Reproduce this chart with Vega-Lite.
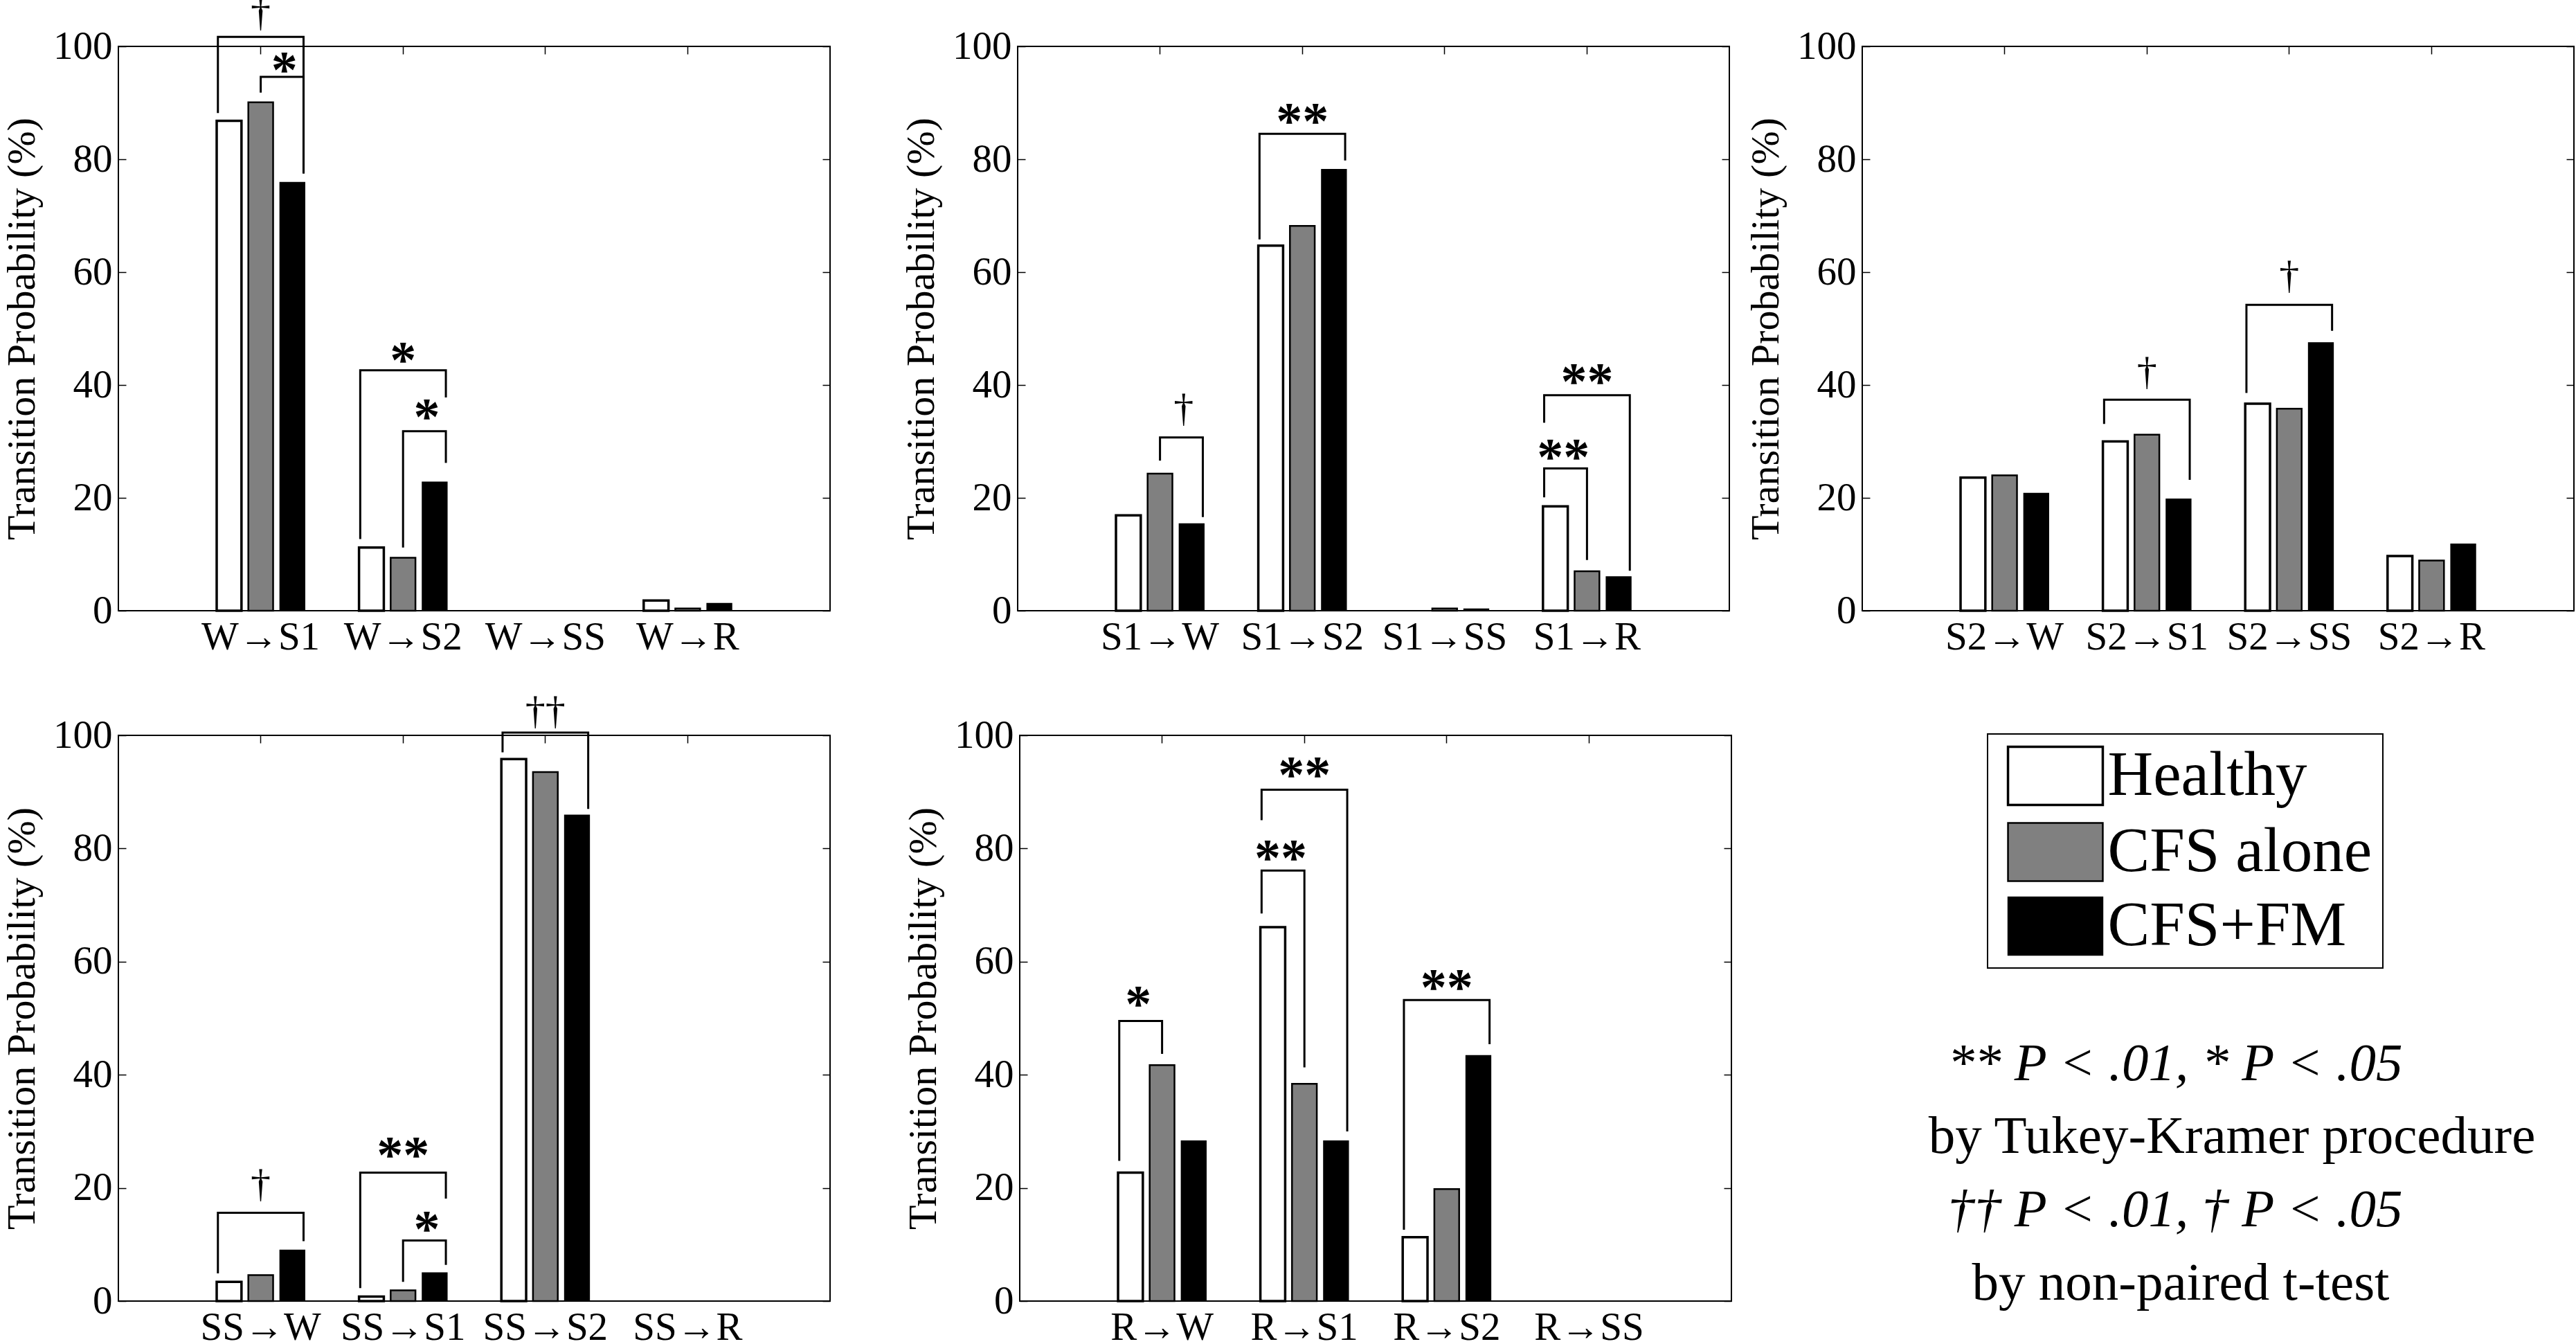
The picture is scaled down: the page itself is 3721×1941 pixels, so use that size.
{
"$schema":"https://vega.github.io/schema/vega-lite/v6.json",
"background":"white",
"padding":{"left":2,"top":-11,"right":0,"bottom":0},
"autosize":{"type":"pad"},
"datasets":{
"bars":[
{"p":1,"t":"W→S1","g":"Healthy","v":86.8},{"p":1,"t":"W→S1","g":"CFS alone","v":90.1},{"p":1,"t":"W→S1","g":"CFS+FM","v":75.9},
{"p":1,"t":"W→S2","g":"Healthy","v":11.2},{"p":1,"t":"W→S2","g":"CFS alone","v":9.4},{"p":1,"t":"W→S2","g":"CFS+FM","v":22.8},
{"p":1,"t":"W→SS","g":"Healthy","v":0},{"p":1,"t":"W→SS","g":"CFS alone","v":0},{"p":1,"t":"W→SS","g":"CFS+FM","v":0},
{"p":1,"t":"W→R","g":"Healthy","v":1.8},{"p":1,"t":"W→R","g":"CFS alone","v":0.4},{"p":1,"t":"W→R","g":"CFS+FM","v":1.3},
{"p":2,"t":"S1→W","g":"Healthy","v":16.9},{"p":2,"t":"S1→W","g":"CFS alone","v":24.3},{"p":2,"t":"S1→W","g":"CFS+FM","v":15.4},
{"p":2,"t":"S1→S2","g":"Healthy","v":64.7},{"p":2,"t":"S1→S2","g":"CFS alone","v":68.2},{"p":2,"t":"S1→S2","g":"CFS+FM","v":78.2},
{"p":2,"t":"S1→SS","g":"Healthy","v":0},{"p":2,"t":"S1→SS","g":"CFS alone","v":0.4},{"p":2,"t":"S1→SS","g":"CFS+FM","v":0.3},
{"p":2,"t":"S1→R","g":"Healthy","v":18.5},{"p":2,"t":"S1→R","g":"CFS alone","v":7.0},{"p":2,"t":"S1→R","g":"CFS+FM","v":6.0},
{"p":3,"t":"S2→W","g":"Healthy","v":23.6},{"p":3,"t":"S2→W","g":"CFS alone","v":24.0},{"p":3,"t":"S2→W","g":"CFS+FM","v":20.8},
{"p":3,"t":"S2→S1","g":"Healthy","v":30.0},{"p":3,"t":"S2→S1","g":"CFS alone","v":31.2},{"p":3,"t":"S2→S1","g":"CFS+FM","v":19.8},
{"p":3,"t":"S2→SS","g":"Healthy","v":36.7},{"p":3,"t":"S2→SS","g":"CFS alone","v":35.8},{"p":3,"t":"S2→SS","g":"CFS+FM","v":47.5},
{"p":3,"t":"S2→R","g":"Healthy","v":9.7},{"p":3,"t":"S2→R","g":"CFS alone","v":8.9},{"p":3,"t":"S2→R","g":"CFS+FM","v":11.8},
{"p":4,"t":"SS→W","g":"Healthy","v":3.4},{"p":4,"t":"SS→W","g":"CFS alone","v":4.6},{"p":4,"t":"SS→W","g":"CFS+FM","v":9.0},
{"p":4,"t":"SS→S1","g":"Healthy","v":0.8},{"p":4,"t":"SS→S1","g":"CFS alone","v":1.9},{"p":4,"t":"SS→S1","g":"CFS+FM","v":5.0},
{"p":4,"t":"SS→S2","g":"Healthy","v":95.8},{"p":4,"t":"SS→S2","g":"CFS alone","v":93.5},{"p":4,"t":"SS→S2","g":"CFS+FM","v":85.9},
{"p":4,"t":"SS→R","g":"Healthy","v":0},{"p":4,"t":"SS→R","g":"CFS alone","v":0},{"p":4,"t":"SS→R","g":"CFS+FM","v":0},
{"p":5,"t":"R→W","g":"Healthy","v":22.7},{"p":5,"t":"R→W","g":"CFS alone","v":41.7},{"p":5,"t":"R→W","g":"CFS+FM","v":28.3},
{"p":5,"t":"R→S1","g":"Healthy","v":66.1},{"p":5,"t":"R→S1","g":"CFS alone","v":38.4},{"p":5,"t":"R→S1","g":"CFS+FM","v":28.3},
{"p":5,"t":"R→S2","g":"Healthy","v":11.3},{"p":5,"t":"R→S2","g":"CFS alone","v":19.8},{"p":5,"t":"R→S2","g":"CFS+FM","v":43.4},
{"p":5,"t":"R→SS","g":"Healthy","v":0},{"p":5,"t":"R→SS","g":"CFS alone","v":0},{"p":5,"t":"R→SS","g":"CFS+FM","v":0}
],
"brackets":[
{"p":1,"b":"b1","t":"W→S1","g":"Healthy","y":88.2,"k":1},{"p":1,"b":"b1","t":"W→S1","g":"Healthy","y":101.7,"k":2},{"p":1,"b":"b1","t":"W→S1","g":"CFS+FM","y":101.7,"k":3},{"p":1,"b":"b1","t":"W→S1","g":"CFS+FM","y":77.5,"k":4},
{"p":1,"b":"b2","t":"W→S1","g":"CFS alone","y":91.8,"k":1},{"p":1,"b":"b2","t":"W→S1","g":"CFS alone","y":94.6,"k":2},{"p":1,"b":"b2","t":"W→S1","g":"CFS+FM","y":94.6,"k":3},{"p":1,"b":"b2","t":"W→S1","g":"CFS+FM","y":77.5,"k":4},
{"p":1,"b":"b3","t":"W→S2","g":"Healthy","y":12.7,"k":1},{"p":1,"b":"b3","t":"W→S2","g":"Healthy","y":42.6,"k":2},{"p":1,"b":"b3","t":"W→S2","g":"CFS+FM","y":42.6,"k":3},{"p":1,"b":"b3","t":"W→S2","g":"CFS+FM","y":37.8,"k":4},
{"p":1,"b":"b4","t":"W→S2","g":"CFS alone","y":11.2,"k":1},{"p":1,"b":"b4","t":"W→S2","g":"CFS alone","y":31.8,"k":2},{"p":1,"b":"b4","t":"W→S2","g":"CFS+FM","y":31.8,"k":3},{"p":1,"b":"b4","t":"W→S2","g":"CFS+FM","y":26.2,"k":4},
{"p":2,"b":"b5","t":"S1→W","g":"CFS alone","y":26.6,"k":1},{"p":2,"b":"b5","t":"S1→W","g":"CFS alone","y":30.7,"k":2},{"p":2,"b":"b5","t":"S1→W","g":"CFS+FM","y":30.7,"k":3},{"p":2,"b":"b5","t":"S1→W","g":"CFS+FM","y":16.6,"k":4},
{"p":2,"b":"b6","t":"S1→S2","g":"Healthy","y":65.8,"k":1},{"p":2,"b":"b6","t":"S1→S2","g":"Healthy","y":84.5,"k":2},{"p":2,"b":"b6","t":"S1→S2","g":"CFS+FM","y":84.5,"k":3},{"p":2,"b":"b6","t":"S1→S2","g":"CFS+FM","y":79.8,"k":4},
{"p":2,"b":"b7","t":"S1→R","g":"Healthy","y":20.1,"k":1},{"p":2,"b":"b7","t":"S1→R","g":"Healthy","y":25.2,"k":2},{"p":2,"b":"b7","t":"S1→R","g":"CFS alone","y":25.2,"k":3},{"p":2,"b":"b7","t":"S1→R","g":"CFS alone","y":9.0,"k":4},
{"p":2,"b":"b8","t":"S1→R","g":"Healthy","y":33.3,"k":1},{"p":2,"b":"b8","t":"S1→R","g":"Healthy","y":38.2,"k":2},{"p":2,"b":"b8","t":"S1→R","g":"CFS+FM","y":38.2,"k":3},{"p":2,"b":"b8","t":"S1→R","g":"CFS+FM","y":7.1,"k":4},
{"p":3,"b":"b9","t":"S2→S1","g":"Healthy","y":33.1,"k":1},{"p":3,"b":"b9","t":"S2→S1","g":"Healthy","y":37.4,"k":2},{"p":3,"b":"b9","t":"S2→S1","g":"CFS+FM","y":37.4,"k":3},{"p":3,"b":"b9","t":"S2→S1","g":"CFS+FM","y":23.2,"k":4},
{"p":3,"b":"b10","t":"S2→SS","g":"Healthy","y":38.6,"k":1},{"p":3,"b":"b10","t":"S2→SS","g":"Healthy","y":54.2,"k":2},{"p":3,"b":"b10","t":"S2→SS","g":"CFS+FM","y":54.2,"k":3},{"p":3,"b":"b10","t":"S2→SS","g":"CFS+FM","y":49.6,"k":4},
{"p":4,"b":"b11","t":"SS→W","g":"Healthy","y":4.9,"k":1},{"p":4,"b":"b11","t":"SS→W","g":"Healthy","y":15.6,"k":2},{"p":4,"b":"b11","t":"SS→W","g":"CFS+FM","y":15.6,"k":3},{"p":4,"b":"b11","t":"SS→W","g":"CFS+FM","y":10.6,"k":4},
{"p":4,"b":"b12","t":"SS→S1","g":"Healthy","y":2.3,"k":1},{"p":4,"b":"b12","t":"SS→S1","g":"Healthy","y":22.7,"k":2},{"p":4,"b":"b12","t":"SS→S1","g":"CFS+FM","y":22.7,"k":3},{"p":4,"b":"b12","t":"SS→S1","g":"CFS+FM","y":18.1,"k":4},
{"p":4,"b":"b13","t":"SS→S1","g":"CFS alone","y":3.4,"k":1},{"p":4,"b":"b13","t":"SS→S1","g":"CFS alone","y":10.7,"k":2},{"p":4,"b":"b13","t":"SS→S1","g":"CFS+FM","y":10.7,"k":3},{"p":4,"b":"b13","t":"SS→S1","g":"CFS+FM","y":6.4,"k":4},
{"p":4,"b":"b14","t":"SS→S2","g":"Healthy","y":97.0,"k":1},{"p":4,"b":"b14","t":"SS→S2","g":"Healthy","y":100.5,"k":2},{"p":4,"b":"b14","t":"SS→S2","g":"CFS+FM","y":100.5,"k":3},{"p":4,"b":"b14","t":"SS→S2","g":"CFS+FM","y":87.0,"k":4},
{"p":5,"b":"b15","t":"R→W","g":"Healthy","y":24.8,"k":1},{"p":5,"b":"b15","t":"R→W","g":"Healthy","y":49.5,"k":2},{"p":5,"b":"b15","t":"R→W","g":"CFS alone","y":49.5,"k":3},{"p":5,"b":"b15","t":"R→W","g":"CFS alone","y":43.7,"k":4},
{"p":5,"b":"b16","t":"R→S1","g":"Healthy","y":68.5,"k":1},{"p":5,"b":"b16","t":"R→S1","g":"Healthy","y":76.1,"k":2},{"p":5,"b":"b16","t":"R→S1","g":"CFS alone","y":76.1,"k":3},{"p":5,"b":"b16","t":"R→S1","g":"CFS alone","y":41.3,"k":4},
{"p":5,"b":"b17","t":"R→S1","g":"Healthy","y":85.0,"k":1},{"p":5,"b":"b17","t":"R→S1","g":"Healthy","y":90.4,"k":2},{"p":5,"b":"b17","t":"R→S1","g":"CFS+FM","y":90.4,"k":3},{"p":5,"b":"b17","t":"R→S1","g":"CFS+FM","y":30.0,"k":4},
{"p":5,"b":"b18","t":"R→S2","g":"Healthy","y":12.6,"k":1},{"p":5,"b":"b18","t":"R→S2","g":"Healthy","y":53.2,"k":2},{"p":5,"b":"b18","t":"R→S2","g":"CFS+FM","y":53.2,"k":3},{"p":5,"b":"b18","t":"R→S2","g":"CFS+FM","y":45.4,"k":4}
],
"labels":[
{"p":1,"t":"W→S1","s":"H-F","txt":"†","y":105.2},{"p":1,"t":"W→S1","s":"C-F","txt":"*","y":97.0},{"p":1,"t":"W→S2","s":"H-F","txt":"*","y":45.7},{"p":1,"t":"W→S2","s":"C-F","txt":"*","y":35.6},
{"p":2,"t":"S1→W","s":"C-F","txt":"†","y":35.1},{"p":2,"t":"S1→S2","s":"H-F","txt":"**","y":88.0},{"p":2,"t":"S1→R","s":"H-C","txt":"**","y":28.5},{"p":2,"t":"S1→R","s":"H-F","txt":"**","y":41.9},
{"p":3,"t":"S2→S1","s":"H-F","txt":"†","y":41.6},{"p":3,"t":"S2→SS","s":"H-F","txt":"†","y":58.7},
{"p":4,"t":"SS→W","s":"H-F","txt":"†","y":19.9},{"p":4,"t":"SS→S1","s":"H-F","txt":"**","y":27.1},{"p":4,"t":"SS→S1","s":"C-F","txt":"*","y":13.9},{"p":4,"t":"SS→S2","s":"H-F","txt":"††","y":103.5},
{"p":5,"t":"R→W","s":"H-C","txt":"*","y":53.7},{"p":5,"t":"R→S1","s":"H-C","txt":"**","y":79.6},{"p":5,"t":"R→S1","s":"H-F","txt":"**","y":94.2},{"p":5,"t":"R→S2","s":"H-F","txt":"**","y":56.7}
],
"notes":[
{"line":1,"txt":"** P < .01, * P < .05"},
{"line":2,"txt":"by Tukey-Kramer procedure"},
{"line":3,"txt":"†† P < .01, † P < .05"},
{"line":4,"txt":"by non-paired t-test"}
]
},
"vconcat":[
{"hconcat":[
{"width":1028,"height":815,"layer":[
{"data":{"name":"bars"},"transform":[{"filter":"datum.p == 1"}],"mark":{"type":"bar","stroke":"black"},"encoding":{
"x":{"field":"t","type":"nominal","scale":{"domain":["W→S1","W→S2","W→SS","W→R"],"paddingInner":0.3333,"paddingOuter":0.6667},"axis":{"orient":"bottom","title":null,"labelAngle":0,"ticks":false,"labelPadding":10}},
"xOffset":{"field":"g","type":"nominal","scale":{"domain":["Healthy","CFS alone","CFS+FM"],"paddingInner":0.216,"paddingOuter":0.108}},
"y":{"field":"v","type":"quantitative","scale":{"domain":[0,100],"nice":false},"axis":{"orient":"left","title":"Transition Probability (%)","titleFont":"Liberation Serif","values":[0,20,40,60,80,100],"labelPadding":20,"titlePadding":15}},
"fill":{"field":"g","type":"nominal","scale":{"domain":["Healthy","CFS alone","CFS+FM"],"range":["#ffffff","#808080","#000000"]},"legend":{"title":null,"orient":"none","legendX":2700,"legendY":993}},
"strokeWidth":{"condition":{"test":"datum.v <= 0","value":0},"field":"g","type":"nominal","scale":{"domain":["Healthy","CFS alone","CFS+FM"],"range":[3.5,1.5,1]},"legend":null}}},
{"data":{"name":"brackets"},"transform":[{"filter":"datum.p == 1"}],"mark":{"type":"line","color":"black","strokeWidth":3},"encoding":{
"x":{"field":"t","type":"nominal","scale":{"domain":["W→S1","W→S2","W→SS","W→R"],"paddingInner":0.3333,"paddingOuter":0.6667},"axis":{"orient":"top","title":null,"labels":false}},
"xOffset":{"field":"g","type":"nominal","scale":{"domain":["Healthy","CFS alone","CFS+FM"],"paddingInner":0.216,"paddingOuter":0.108}},
"y":{"field":"y","type":"quantitative","scale":{"domain":[0,100],"nice":false},"axis":{"orient":"right","title":null,"labels":false,"values":[0,20,40,60,80,100]}},
"detail":{"field":"b"},"order":{"field":"k","type":"quantitative"}}},
{"data":{"name":"labels"},"transform":[{"filter":"datum.p == 1 && indexof(datum.txt, '*') >= 0"}],"mark":{"type":"text","font":"Liberation Serif","fontSize":76,"fontWeight":"bold","baseline":"middle","dy":12,"color":"black"},"encoding":{
"x":{"field":"t","type":"nominal","scale":{"domain":["W→S1","W→S2","W→SS","W→R"],"paddingInner":0.3333,"paddingOuter":0.6667},"axis":null},
"xOffset":{"field":"s","type":"nominal","scale":{"domain":["H-C","H-F","C-F"],"paddingInner":0,"paddingOuter":1.5}},
"y":{"field":"y","type":"quantitative","scale":{"domain":[0,100],"nice":false},"axis":null},"text":{"field":"txt"}}},
{"data":{"name":"labels"},"transform":[{"filter":"datum.p == 1 && indexof(datum.txt, '*') < 0"}],"mark":{"type":"text","font":"Liberation Serif","fontSize":58,"baseline":"middle","dy":-5,"color":"black"},"encoding":{
"x":{"field":"t","type":"nominal","scale":{"domain":["W→S1","W→S2","W→SS","W→R"],"paddingInner":0.3333,"paddingOuter":0.6667},"axis":null},
"xOffset":{"field":"s","type":"nominal","scale":{"domain":["H-C","H-F","C-F"],"paddingInner":0,"paddingOuter":1.5}},
"y":{"field":"y","type":"quantitative","scale":{"domain":[0,100],"nice":false},"axis":null},"text":{"field":"txt"}}}
],"resolve":{"axis":{"x":"independent","y":"independent"},"scale":{"xOffset":"independent"}}},
{"hconcat":[
{"width":1028,"height":815,"layer":[
{"data":{"name":"bars"},"transform":[{"filter":"datum.p == 2"}],"mark":{"type":"bar","stroke":"black"},"encoding":{
"x":{"field":"t","type":"nominal","scale":{"domain":["S1→W","S1→S2","S1→SS","S1→R"],"paddingInner":0.3333,"paddingOuter":0.6667},"axis":{"orient":"bottom","title":null,"labelAngle":0,"ticks":false,"labelPadding":10}},
"xOffset":{"field":"g","type":"nominal","scale":{"domain":["Healthy","CFS alone","CFS+FM"],"paddingInner":0.216,"paddingOuter":0.108}},
"y":{"field":"v","type":"quantitative","scale":{"domain":[0,100],"nice":false},"axis":{"orient":"left","title":"Transition Probability (%)","titleFont":"Liberation Serif","values":[0,20,40,60,80,100],"labelPadding":20,"titlePadding":15}},
"fill":{"field":"g","type":"nominal","scale":{"domain":["Healthy","CFS alone","CFS+FM"],"range":["#ffffff","#808080","#000000"]}},
"strokeWidth":{"condition":{"test":"datum.v <= 0","value":0},"field":"g","type":"nominal","scale":{"domain":["Healthy","CFS alone","CFS+FM"],"range":[3.5,1.5,1]},"legend":null}}},
{"data":{"name":"brackets"},"transform":[{"filter":"datum.p == 2"}],"mark":{"type":"line","color":"black","strokeWidth":3},"encoding":{
"x":{"field":"t","type":"nominal","scale":{"domain":["S1→W","S1→S2","S1→SS","S1→R"],"paddingInner":0.3333,"paddingOuter":0.6667},"axis":{"orient":"top","title":null,"labels":false}},
"xOffset":{"field":"g","type":"nominal","scale":{"domain":["Healthy","CFS alone","CFS+FM"],"paddingInner":0.216,"paddingOuter":0.108}},
"y":{"field":"y","type":"quantitative","scale":{"domain":[0,100],"nice":false},"axis":{"orient":"right","title":null,"labels":false,"values":[0,20,40,60,80,100]}},
"detail":{"field":"b"},"order":{"field":"k","type":"quantitative"}}},
{"data":{"name":"labels"},"transform":[{"filter":"datum.p == 2 && indexof(datum.txt, '*') >= 0"}],"mark":{"type":"text","font":"Liberation Serif","fontSize":76,"fontWeight":"bold","baseline":"middle","dy":12,"color":"black"},"encoding":{
"x":{"field":"t","type":"nominal","scale":{"domain":["S1→W","S1→S2","S1→SS","S1→R"],"paddingInner":0.3333,"paddingOuter":0.6667},"axis":null},
"xOffset":{"field":"s","type":"nominal","scale":{"domain":["H-C","H-F","C-F"],"paddingInner":0,"paddingOuter":1.5}},
"y":{"field":"y","type":"quantitative","scale":{"domain":[0,100],"nice":false},"axis":null},"text":{"field":"txt"}}},
{"data":{"name":"labels"},"transform":[{"filter":"datum.p == 2 && indexof(datum.txt, '*') < 0"}],"mark":{"type":"text","font":"Liberation Serif","fontSize":58,"baseline":"middle","dy":-5,"color":"black"},"encoding":{
"x":{"field":"t","type":"nominal","scale":{"domain":["S1→W","S1→S2","S1→SS","S1→R"],"paddingInner":0.3333,"paddingOuter":0.6667},"axis":null},
"xOffset":{"field":"s","type":"nominal","scale":{"domain":["H-C","H-F","C-F"],"paddingInner":0,"paddingOuter":1.5}},
"y":{"field":"y","type":"quantitative","scale":{"domain":[0,100],"nice":false},"axis":null},"text":{"field":"txt"}}}
],"resolve":{"axis":{"x":"independent","y":"independent"},"scale":{"xOffset":"independent"}}},
{"width":1028,"height":815,"layer":[
{"data":{"name":"bars"},"transform":[{"filter":"datum.p == 3"}],"mark":{"type":"bar","stroke":"black"},"encoding":{
"x":{"field":"t","type":"nominal","scale":{"domain":["S2→W","S2→S1","S2→SS","S2→R"],"paddingInner":0.3333,"paddingOuter":0.6667},"axis":{"orient":"bottom","title":null,"labelAngle":0,"ticks":false,"labelPadding":10}},
"xOffset":{"field":"g","type":"nominal","scale":{"domain":["Healthy","CFS alone","CFS+FM"],"paddingInner":0.216,"paddingOuter":0.108}},
"y":{"field":"v","type":"quantitative","scale":{"domain":[0,100],"nice":false},"axis":{"orient":"left","title":"Transition Probability (%)","titleFont":"Liberation Serif","values":[0,20,40,60,80,100],"labelPadding":20,"titlePadding":15}},
"fill":{"field":"g","type":"nominal","scale":{"domain":["Healthy","CFS alone","CFS+FM"],"range":["#ffffff","#808080","#000000"]}},
"strokeWidth":{"condition":{"test":"datum.v <= 0","value":0},"field":"g","type":"nominal","scale":{"domain":["Healthy","CFS alone","CFS+FM"],"range":[3.5,1.5,1]},"legend":null}}},
{"data":{"name":"brackets"},"transform":[{"filter":"datum.p == 3"}],"mark":{"type":"line","color":"black","strokeWidth":3},"encoding":{
"x":{"field":"t","type":"nominal","scale":{"domain":["S2→W","S2→S1","S2→SS","S2→R"],"paddingInner":0.3333,"paddingOuter":0.6667},"axis":{"orient":"top","title":null,"labels":false}},
"xOffset":{"field":"g","type":"nominal","scale":{"domain":["Healthy","CFS alone","CFS+FM"],"paddingInner":0.216,"paddingOuter":0.108}},
"y":{"field":"y","type":"quantitative","scale":{"domain":[0,100],"nice":false},"axis":{"orient":"right","title":null,"labels":false,"values":[0,20,40,60,80,100]}},
"detail":{"field":"b"},"order":{"field":"k","type":"quantitative"}}},
{"data":{"name":"labels"},"transform":[{"filter":"datum.p == 3 && indexof(datum.txt, '*') < 0"}],"mark":{"type":"text","font":"Liberation Serif","fontSize":58,"baseline":"middle","dy":-5,"color":"black"},"encoding":{
"x":{"field":"t","type":"nominal","scale":{"domain":["S2→W","S2→S1","S2→SS","S2→R"],"paddingInner":0.3333,"paddingOuter":0.6667},"axis":null},
"xOffset":{"field":"s","type":"nominal","scale":{"domain":["H-C","H-F","C-F"],"paddingInner":0,"paddingOuter":1.5}},
"y":{"field":"y","type":"quantitative","scale":{"domain":[0,100],"nice":false},"axis":null},"text":{"field":"txt"}}}
],"resolve":{"axis":{"x":"independent","y":"independent"},"scale":{"xOffset":"independent"}}}
],"spacing":21}
],"spacing":100},
{"hconcat":[
{"width":1028,"height":817,"layer":[
{"data":{"name":"bars"},"transform":[{"filter":"datum.p == 4"}],"mark":{"type":"bar","stroke":"black"},"encoding":{
"x":{"field":"t","type":"nominal","scale":{"domain":["SS→W","SS→S1","SS→S2","SS→R"],"paddingInner":0.3333,"paddingOuter":0.6667},"axis":{"orient":"bottom","title":null,"labelAngle":0,"ticks":false,"labelPadding":10}},
"xOffset":{"field":"g","type":"nominal","scale":{"domain":["Healthy","CFS alone","CFS+FM"],"paddingInner":0.216,"paddingOuter":0.108}},
"y":{"field":"v","type":"quantitative","scale":{"domain":[0,100],"nice":false},"axis":{"orient":"left","title":"Transition Probability (%)","titleFont":"Liberation Serif","values":[0,20,40,60,80,100],"labelPadding":20,"titlePadding":15}},
"fill":{"field":"g","type":"nominal","scale":{"domain":["Healthy","CFS alone","CFS+FM"],"range":["#ffffff","#808080","#000000"]}},
"strokeWidth":{"condition":{"test":"datum.v <= 0","value":0},"field":"g","type":"nominal","scale":{"domain":["Healthy","CFS alone","CFS+FM"],"range":[3.5,1.5,1]},"legend":null}}},
{"data":{"name":"brackets"},"transform":[{"filter":"datum.p == 4"}],"mark":{"type":"line","color":"black","strokeWidth":3},"encoding":{
"x":{"field":"t","type":"nominal","scale":{"domain":["SS→W","SS→S1","SS→S2","SS→R"],"paddingInner":0.3333,"paddingOuter":0.6667},"axis":{"orient":"top","title":null,"labels":false}},
"xOffset":{"field":"g","type":"nominal","scale":{"domain":["Healthy","CFS alone","CFS+FM"],"paddingInner":0.216,"paddingOuter":0.108}},
"y":{"field":"y","type":"quantitative","scale":{"domain":[0,100],"nice":false},"axis":{"orient":"right","title":null,"labels":false,"values":[0,20,40,60,80,100]}},
"detail":{"field":"b"},"order":{"field":"k","type":"quantitative"}}},
{"data":{"name":"labels"},"transform":[{"filter":"datum.p == 4 && indexof(datum.txt, '*') >= 0"}],"mark":{"type":"text","font":"Liberation Serif","fontSize":76,"fontWeight":"bold","baseline":"middle","dy":12,"color":"black"},"encoding":{
"x":{"field":"t","type":"nominal","scale":{"domain":["SS→W","SS→S1","SS→S2","SS→R"],"paddingInner":0.3333,"paddingOuter":0.6667},"axis":null},
"xOffset":{"field":"s","type":"nominal","scale":{"domain":["H-C","H-F","C-F"],"paddingInner":0,"paddingOuter":1.5}},
"y":{"field":"y","type":"quantitative","scale":{"domain":[0,100],"nice":false},"axis":null},"text":{"field":"txt"}}},
{"data":{"name":"labels"},"transform":[{"filter":"datum.p == 4 && indexof(datum.txt, '*') < 0"}],"mark":{"type":"text","font":"Liberation Serif","fontSize":58,"baseline":"middle","dy":-5,"color":"black"},"encoding":{
"x":{"field":"t","type":"nominal","scale":{"domain":["SS→W","SS→S1","SS→S2","SS→R"],"paddingInner":0.3333,"paddingOuter":0.6667},"axis":null},
"xOffset":{"field":"s","type":"nominal","scale":{"domain":["H-C","H-F","C-F"],"paddingInner":0,"paddingOuter":1.5}},
"y":{"field":"y","type":"quantitative","scale":{"domain":[0,100],"nice":false},"axis":null},"text":{"field":"txt"}}}
],"resolve":{"axis":{"x":"independent","y":"independent"},"scale":{"xOffset":"independent"}}},
{"hconcat":[
{"width":1028,"height":817,"layer":[
{"data":{"name":"bars"},"transform":[{"filter":"datum.p == 5"}],"mark":{"type":"bar","stroke":"black"},"encoding":{
"x":{"field":"t","type":"nominal","scale":{"domain":["R→W","R→S1","R→S2","R→SS"],"paddingInner":0.3333,"paddingOuter":0.6667},"axis":{"orient":"bottom","title":null,"labelAngle":0,"ticks":false,"labelPadding":10}},
"xOffset":{"field":"g","type":"nominal","scale":{"domain":["Healthy","CFS alone","CFS+FM"],"paddingInner":0.216,"paddingOuter":0.108}},
"y":{"field":"v","type":"quantitative","scale":{"domain":[0,100],"nice":false},"axis":{"orient":"left","title":"Transition Probability (%)","titleFont":"Liberation Serif","values":[0,20,40,60,80,100],"labelPadding":20,"titlePadding":15}},
"fill":{"field":"g","type":"nominal","scale":{"domain":["Healthy","CFS alone","CFS+FM"],"range":["#ffffff","#808080","#000000"]}},
"strokeWidth":{"condition":{"test":"datum.v <= 0","value":0},"field":"g","type":"nominal","scale":{"domain":["Healthy","CFS alone","CFS+FM"],"range":[3.5,1.5,1]},"legend":null}}},
{"data":{"name":"brackets"},"transform":[{"filter":"datum.p == 5"}],"mark":{"type":"line","color":"black","strokeWidth":3},"encoding":{
"x":{"field":"t","type":"nominal","scale":{"domain":["R→W","R→S1","R→S2","R→SS"],"paddingInner":0.3333,"paddingOuter":0.6667},"axis":{"orient":"top","title":null,"labels":false}},
"xOffset":{"field":"g","type":"nominal","scale":{"domain":["Healthy","CFS alone","CFS+FM"],"paddingInner":0.216,"paddingOuter":0.108}},
"y":{"field":"y","type":"quantitative","scale":{"domain":[0,100],"nice":false},"axis":{"orient":"right","title":null,"labels":false,"values":[0,20,40,60,80,100]}},
"detail":{"field":"b"},"order":{"field":"k","type":"quantitative"}}},
{"data":{"name":"labels"},"transform":[{"filter":"datum.p == 5 && indexof(datum.txt, '*') >= 0"}],"mark":{"type":"text","font":"Liberation Serif","fontSize":76,"fontWeight":"bold","baseline":"middle","dy":12,"color":"black"},"encoding":{
"x":{"field":"t","type":"nominal","scale":{"domain":["R→W","R→S1","R→S2","R→SS"],"paddingInner":0.3333,"paddingOuter":0.6667},"axis":null},
"xOffset":{"field":"s","type":"nominal","scale":{"domain":["H-C","H-F","C-F"],"paddingInner":0,"paddingOuter":1.5}},
"y":{"field":"y","type":"quantitative","scale":{"domain":[0,100],"nice":false},"axis":null},"text":{"field":"txt"}}}
],"resolve":{"axis":{"x":"independent","y":"independent"},"scale":{"xOffset":"independent"}}},
{"width":900,"height":817,"view":{"stroke":null,"fill":"white"},"data":{"name":"notes"},"layer":[
{"transform":[{"filter":"datum.line == 1 || datum.line == 3"}],"mark":{"type":"text","font":"Liberation Serif","fontSize":77,"fontStyle":"italic","baseline":"middle","color":"black"},"encoding":{
"y":{"field":"line","type":"quantitative","scale":{"domain":[-3.49,4.24],"reverse":true,"nice":false,"zero":false},"axis":null},"text":{"field":"txt"}}},
{"transform":[{"filter":"datum.line == 2"}],"mark":{"type":"text","font":"Liberation Serif","fontSize":77,"baseline":"middle","dx":82,"color":"black"},"encoding":{
"y":{"field":"line","type":"quantitative","scale":{"domain":[-3.49,4.24],"reverse":true,"nice":false,"zero":false},"axis":null},"text":{"field":"txt"}}},
{"transform":[{"filter":"datum.line == 4"}],"mark":{"type":"text","font":"Liberation Serif","fontSize":77,"baseline":"middle","dx":8,"color":"black"},"encoding":{
"y":{"field":"line","type":"quantitative","scale":{"domain":[-3.49,4.24],"reverse":true,"nice":false,"zero":false},"axis":null},"text":{"field":"txt"}}}
]}
],"spacing":189}
],"spacing":103}
],
"spacing":49,
"config":{
"font":"Liberation Serif",
"view":{"stroke":"black","strokeWidth":2},
"axis":{"labelFont":"Liberation Serif","labelFontSize":57,"labelColor":"black","labelLimit":3000,"titleFont":"Liberation Serif","titleFontSize":58,"titleFontWeight":"normal","titleColor":"black","domain":false,"grid":false,"tickColor":"black","tickSize":-11,"tickWidth":1.5},
"legend":{"labelFont":"Liberation Serif","labelFontSize":91,"labelColor":"black","labelLimit":3000,"symbolType":"M-1.63,-1H1.63V1H-1.63Z","symbolSize":7056,"symbolStrokeColor":"black","symbolStrokeWidth":2.5,"labelOffset":30,"rowPadding":13,"padding":15,"strokeColor":"black","strokeWidth":2,"fillColor":"white","symbolOffset":37.5}
}
}
